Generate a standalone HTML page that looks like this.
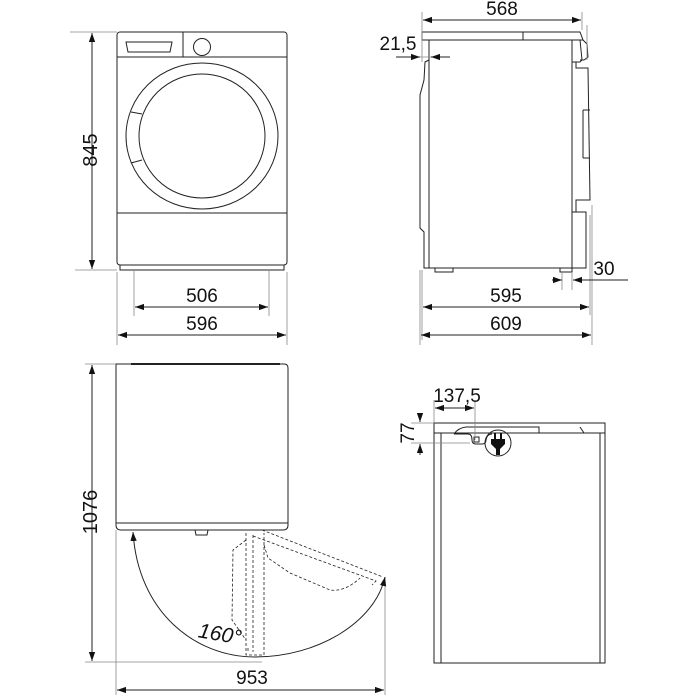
<!DOCTYPE html>
<html><head><meta charset="utf-8"><style>
html,body{margin:0;padding:0;background:#fff;width:700px;height:700px;overflow:hidden}
svg{display:block}
text{font-family:"Liberation Sans",Arial,sans-serif;fill:#111}
</style></head><body>
<svg width="700" height="700" viewBox="0 0 700 700" xmlns="http://www.w3.org/2000/svg">
<defs>
<marker id="a" viewBox="0 0 10 10" refX="10" refY="5" markerWidth="9" markerHeight="9" orient="auto-start-reverse" markerUnits="userSpaceOnUse"><path d="M0,1.5 L10,5 L0,8.5 z" fill="#111"/></marker>
</defs>
<g fill="none" stroke="#222" stroke-width="1">
<!-- FRONT VIEW -->
<rect x="117" y="32" width="170" height="233" rx="3"/>
<line x1="117" y1="57" x2="287" y2="57"/>
<line x1="183" y1="32" x2="183" y2="57"/>
<path d="M126,42 L172,42 L170,52 L128,52 Z"/>
<circle cx="202" cy="47" r="8.5"/>
<ellipse cx="202" cy="136" rx="76" ry="73"/>
<ellipse cx="202" cy="136" rx="63" ry="62"/>
<path d="M131,112 L142,114 M131,163 L142,160"/>
<line x1="117" y1="213" x2="287" y2="213"/>
<rect x="120" y="265" width="164" height="5"/>
<g stroke="#888" stroke-width="0.8">
<line x1="70" y1="32" x2="117" y2="32"/><line x1="75" y1="270" x2="117" y2="270"/>
<line x1="134" y1="270" x2="134" y2="316"/><line x1="269" y1="270" x2="269" y2="316"/>
<line x1="117" y1="272" x2="117" y2="345"/><line x1="287" y1="272" x2="287" y2="345"/>
</g>
<line x1="92" y1="33" x2="92" y2="269" marker-start="url(#a)" marker-end="url(#a)"/>
<line x1="135" y1="307" x2="268" y2="307" marker-start="url(#a)" marker-end="url(#a)"/>
<line x1="118" y1="335" x2="286" y2="335" marker-start="url(#a)" marker-end="url(#a)"/>

<!-- SIDE VIEW -->
<path d="M422,32 L580,32 L583,40 L422,40 Z"/>
<line x1="523" y1="32" x2="523" y2="40"/>
<rect x="429" y="40" width="143" height="228"/>
<path d="M429,60 L425,62 L424,80 L420,95 L420,228 L424,232 L424,268 L429,268"/>
<path d="M572,40 L580,40 L582,60 L580,62 L572,62"/>
<path d="M583,40 L587,44 L588,57 L584,60 L580,60"/>
<path d="M572,62 L576,62 L576,68 L588,68 L590,200 L576,200 L576,212 L572,212"/>
<path d="M583,110 L590,110 M583,158 L590,158 M583,110 L583,158"/>
<path d="M572,212 L586,212 L586,268 L572,268"/>
<rect x="435" y="268" width="18" height="4"/><rect x="560" y="268" width="12" height="4"/>
<g stroke="#888" stroke-width="0.8">
<line x1="422" y1="12" x2="422" y2="62"/><line x1="582" y1="12" x2="582" y2="30"/>
<line x1="587" y1="25" x2="587" y2="60"/>
<line x1="422" y1="270" x2="422" y2="340"/><line x1="590" y1="215" x2="590" y2="315"/>
<line x1="420" y1="270" x2="420" y2="345"/><line x1="592" y1="205" x2="592" y2="345"/>
<line x1="562" y1="272" x2="562" y2="290"/><line x1="572" y1="272" x2="572" y2="290"/>
<line x1="396" y1="57" x2="438" y2="57"/>
</g>
<line x1="423" y1="20" x2="581" y2="20" marker-start="url(#a)" marker-end="url(#a)"/>
<line x1="396" y1="57" x2="420" y2="57" marker-end="url(#a)"/>
<line x1="450" y1="57" x2="431" y2="57" marker-end="url(#a)"/>
<line x1="552" y1="280" x2="562" y2="280" marker-end="url(#a)"/>
<line x1="628" y1="280" x2="573" y2="280" marker-end="url(#a)"/>
<line x1="423" y1="307" x2="589" y2="307" marker-start="url(#a)" marker-end="url(#a)"/>
<line x1="421" y1="335" x2="591" y2="335" marker-start="url(#a)" marker-end="url(#a)"/>

<!-- TOP VIEW -->
<path d="M116,364 L116,525 Q116,530 121,530 L283,530 Q288,530 288,525 L288,368 Q288,364 284,364 Z"/>
<line x1="131" y1="364" x2="280" y2="364" stroke-width="2"/>
<line x1="116" y1="523" x2="288" y2="523"/>
<path d="M195,530 L196,535 L207,535 L208,530"/>
<g stroke="#888" stroke-width="0.8">
<line x1="85" y1="364" x2="116" y2="364"/><line x1="85" y1="662" x2="262" y2="662"/>
<line x1="116" y1="530" x2="116" y2="695"/><line x1="385" y1="577" x2="385" y2="695"/>
</g>
<line x1="92" y1="365" x2="92" y2="661" marker-start="url(#a)" marker-end="url(#a)"/>
<line x1="117" y1="690" x2="384" y2="690" marker-start="url(#a)" marker-end="url(#a)"/>
<path d="M133,532 C138,612 195,657 255,657 C318,657 375,622 385,577" marker-start="url(#a)" marker-end="url(#a)"/>
<g stroke-dasharray="3,2" stroke-width="0.8">
<path d="M246,533 L246,655 L264,655 L264,533"/>
<line x1="253" y1="535" x2="253" y2="652"/>
<path d="M246,540 L233,550 L232,620 L246,640"/>
<path d="M248,648 L248,652 M262,530 L383,577"/>
<path d="M253,536 L376,581 L372,585"/>
<path d="M264,545 L268,558 L290,573 L330,590 Q345,592 360,578"/>
</g>

<!-- PLUG VIEW -->
<rect x="434" y="423" width="171" height="10"/>
<path d="M434,433 L434,663 L441,663 L441,433 M600,433 L600,663 L605,663 L605,433"/>
<line x1="441" y1="663" x2="600" y2="663"/>
<path d="M454,434 Q458,428 466,427 L539,427 L539,433"/>
<path d="M454,434 L468,434 Q472,434 472,440 Q472,444 476,444 L482,444 Q486,444 486,440 Q487,434 492,434"/>
<path d="M580,427 L584,433"/>
<rect x="474" y="437" width="5" height="5"/>
<circle cx="498" cy="443" r="13"/>
<g stroke="#888" stroke-width="0.8">
<line x1="434" y1="400" x2="434" y2="423"/><line x1="475" y1="400" x2="475" y2="440"/>
<line x1="411" y1="423" x2="434" y2="423"/><line x1="411" y1="443" x2="470" y2="443"/>
</g>
<line x1="435" y1="408" x2="474" y2="408" marker-start="url(#a)" marker-end="url(#a)"/>
<line x1="420" y1="413" x2="420" y2="422" marker-end="url(#a)"/>
<line x1="420" y1="455" x2="420" y2="444" marker-end="url(#a)"/>
</g>
<!-- plug icon -->
<g fill="#111">
<rect x="494" y="433" width="2" height="6"/><rect x="500" y="433" width="2" height="6"/>
<path d="M491,439 L505,439 L505,444 L500,449 L500,455 L496,455 L496,449 L491,444 Z"/>
</g>
<!-- labels -->
<g font-size="19">
<text x="0" y="0" font-size="20" transform="translate(97,150) rotate(-90)" text-anchor="middle">845</text>
<text x="202" y="302" text-anchor="middle">506</text>
<text x="202" y="330" text-anchor="middle">596</text>
<text x="502" y="15" text-anchor="middle">568</text>
<text x="398" y="50" text-anchor="middle">21,5</text>
<text x="604" y="275" text-anchor="middle">30</text>
<text x="506" y="302" text-anchor="middle">595</text>
<text x="506" y="330" text-anchor="middle">609</text>
<text x="0" y="0" font-size="20" transform="translate(97,512) rotate(-90)" text-anchor="middle">1076</text>
<text x="252" y="684" text-anchor="middle">953</text>
<text x="220" y="641" text-anchor="middle" font-size="21" font-style="italic" transform="rotate(10,220,634)">160°</text>
<text x="457" y="402" text-anchor="middle">137,5</text>
<text x="0" y="0" transform="translate(414,433) rotate(-90)" text-anchor="middle">77</text>
</g>
</svg>
</body></html>
